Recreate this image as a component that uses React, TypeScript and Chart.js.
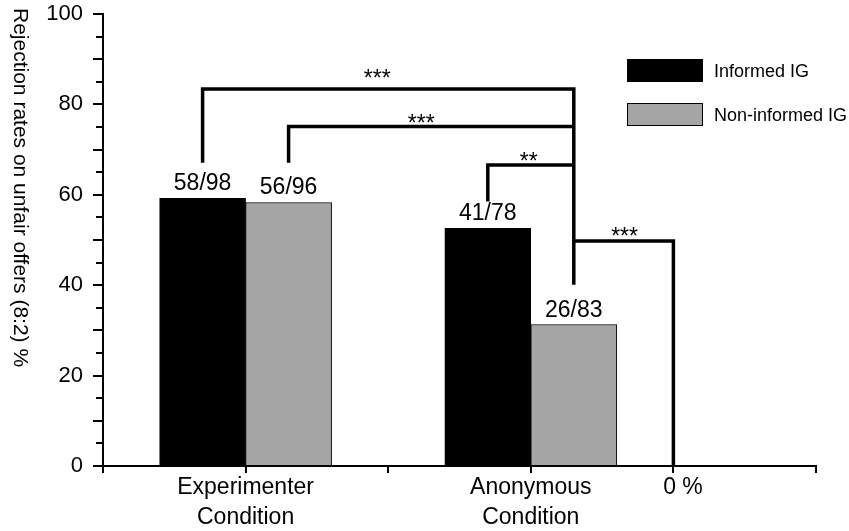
import React, { useEffect, useRef } from 'react';
import { Chart, registerables } from 'chart.js';

Chart.register(...registerables);

// ---------- data ----------
const categoryLabels: (string | string[])[] = [
  '',
  ['Experimenter', 'Condition'],
  '',
  ['Anonymous', 'Condition'],
  '   0 %',
  '',
];
const seriesNames = ['Informed IG', 'Non-informed IG'];
const informedValues = [null, 59.2, null, 52.6, null, null];
const nonInformedValues = [null, 58.3, null, 31.3, null, null];
const informedCounts = ['', '58/98', '', '41/78', '', ''];
const nonInformedCounts = ['', '56/96', '', '26/83', '', ''];
const yAxisTitle = 'Rejection rates on unfair offers (8:2) %';

// significance brackets (all join at the Non-informed / Anonymous bar)
const bracketStars = ['***', '***', '**'];
const bracketLevels = [83.4, 75.1, 66.6];
const bracketStartDataset = [0, 1, 0];
const bracketStartIndex = [1, 1, 3];
const bracketLegEnds = [67.1, 67.1, 58.5];
const bracketTargetDataset = 1;
const bracketTargetIndex = 3;
const bracketTargetLegEnd = 40.1;
const zeroBracketLevel = 49.8;
const zeroBracketCategory = 4;
const zeroBracketStar = '***';

// ---------- styling ----------
const FONT = '"Liberation Sans", Arial, Helvetica, sans-serif';
const GRAY = '#a5a5a5';
const STAR_SHIFT = [-11, -10, -2, 1];
const STAR_RAISE = [16, 8, 8.5, 9];

function fillCentered(ctx: CanvasRenderingContext2D, text: string, x: number, cy: number) {
  ctx.textAlign = 'center';
  ctx.textBaseline = 'alphabetic';
  const m = ctx.measureText(text);
  const y = cy - (m.actualBoundingBoxDescent - m.actualBoundingBoxAscent) / 2;
  ctx.fillText(text, x, y);
}

const decorPlugin = {
  id: 'decor',
  afterDraw(chart: any) {
    const ctx: CanvasRenderingContext2D = chart.ctx;
    const xs = chart.scales.x;
    const ys = chart.scales.y;
    const area = chart.chartArea;
    ctx.save();
    ctx.fillStyle = '#000';
    ctx.strokeStyle = '#000';

    // minor y ticks
    ctx.lineWidth = 2;
    ctx.beginPath();
    for (let v = 5; v < 100; v += 10) {
      const py = Math.round(ys.getPixelForValue(v));
      ctx.moveTo(area.left - 7, py);
      ctx.lineTo(area.left, py);
    }
    ctx.stroke();

    // y title (rotated clockwise)
    ctx.save();
    ctx.translate(20, 8);
    ctx.rotate(Math.PI / 2);
    ctx.font = `21px ${FONT}`;
    ctx.textAlign = 'left';
    ctx.textBaseline = 'middle';
    ctx.fillText(yAxisTitle, 0, 0);
    ctx.restore();

    // bar count labels
    ctx.font = `23px ${FONT}`;
    const countSets = [informedCounts, nonInformedCounts];
    countSets.forEach((labels, d) => {
      const meta = chart.getDatasetMeta(d);
      labels.forEach((t, i) => {
        if (!t) return;
        const el = meta.data[i];
        if (!el) return;
        fillCentered(ctx, t, el.x, el.y - 17);
      });
    });

    // brackets
    const tgt = chart.getDatasetMeta(bracketTargetDataset).data[bracketTargetIndex];
    const xt = tgt.x;
    ctx.lineWidth = 3.5;
    ctx.lineJoin = 'miter';
    ctx.lineCap = 'butt';
    ctx.font = `23px ${FONT}`;
    bracketLevels.forEach((lv, k) => {
      const el = chart.getDatasetMeta(bracketStartDataset[k]).data[bracketStartIndex[k]];
      const xsP = el.x;
      const yl = ys.getPixelForValue(lv);
      ctx.beginPath();
      ctx.moveTo(xsP, ys.getPixelForValue(bracketLegEnds[k]));
      ctx.lineTo(xsP, yl);
      ctx.lineTo(xt, yl);
      if (k === 0) ctx.lineTo(xt, ys.getPixelForValue(bracketTargetLegEnd));
      ctx.stroke();
      fillCentered(ctx, bracketStars[k], (xsP + xt) / 2 + STAR_SHIFT[k], yl - STAR_RAISE[k]);
    });
    const xz = xs.getPixelForValue(zeroBracketCategory);
    const yz = ys.getPixelForValue(zeroBracketLevel);
    ctx.beginPath();
    ctx.moveTo(xt, yz);
    ctx.lineTo(xz, yz);
    ctx.lineTo(xz, ys.getPixelForValue(0));
    ctx.stroke();
    fillCentered(ctx, zeroBracketStar, (xt + xz) / 2 + STAR_SHIFT[3], yz - STAR_RAISE[3]);

    // legend
    const bx = area.right - 189;
    const by = area.top + 45;
    const colors = ['#000', GRAY];
    ctx.font = `18px ${FONT}`;
    ctx.lineWidth = 1;
    seriesNames.forEach((name, i) => {
      const y0 = by + i * 44;
      ctx.fillStyle = colors[i];
      ctx.fillRect(bx, y0, 76, 23);
      ctx.strokeStyle = '#000';
      ctx.strokeRect(bx + 0.5, y0 + 0.5, 75, 22);
      ctx.fillStyle = '#000';
      ctx.textAlign = 'left';
      ctx.textBaseline = 'middle';
      ctx.fillText(name, bx + 87, y0 + 13);
    });

    ctx.restore();
  },
};

export default function App() {
  const ref = useRef<HTMLCanvasElement>(null);
  useEffect(() => {
    document.body.style.margin = '0';
    Chart.defaults.font.family = FONT;
    Chart.defaults.color = '#000';
    const chart = new Chart(ref.current as HTMLCanvasElement, {
      type: 'bar',
      data: {
        labels: categoryLabels as any,
        datasets: [
          {
            label: seriesNames[0],
            data: informedValues as any,
            backgroundColor: '#000',
            borderColor: '#000',
            borderWidth: 1,
            barThickness: 86,
          },
          {
            label: seriesNames[1],
            data: nonInformedValues as any,
            backgroundColor: GRAY,
            borderColor: '#000',
            borderWidth: 1,
            barThickness: 86,
          },
        ],
      },
      options: {
        responsive: false,
        animation: false,
        events: [],
        layout: { padding: { left: 0, top: 14, right: 33, bottom: 0 } },
        plugins: { legend: { display: false }, tooltip: { enabled: false } },
        scales: {
          x: {
            offset: false,
            grid: {
              offset: false,
              drawOnChartArea: false,
              drawTicks: true,
              tickLength: 7,
              color: '#000',
              lineWidth: 2,
            },
            border: { display: true, color: '#000', width: 2 },
            ticks: {
              color: '#000',
              font: { size: 23, family: FONT, lineHeight: 1.3 },
              padding: 0,
              autoSkip: false,
              maxRotation: 0,
              minRotation: 0,
            },
            afterFit: (s: any) => {
              s.height = 65;
              s.paddingLeft = 0;
              s.paddingRight = 0;
            },
          },
          y: {
            min: 0,
            max: 100,
            grid: {
              drawOnChartArea: false,
              drawTicks: true,
              tickLength: 10,
              color: '#000',
              lineWidth: 2,
            },
            border: { display: true, color: '#000', width: 2 },
            ticks: {
              stepSize: 10,
              color: '#000',
              font: { size: 22, family: FONT },
              padding: 10,
              autoSkip: false,
              callback: (v: any) => (Number(v) % 20 === 0 ? String(v) : ''),
            },
            afterFit: (s: any) => {
              s.width = 103;
              s.paddingTop = 0;
              s.paddingBottom = 0;
            },
          },
        },
      } as any,
      plugins: [decorPlugin],
    });
    return () => chart.destroy();
  }, []);
  return (
    <div style={{ width: 849, height: 531 }}>
      <canvas ref={ref} width={849} height={531} style={{ display: 'block' }} />
    </div>
  );
}
